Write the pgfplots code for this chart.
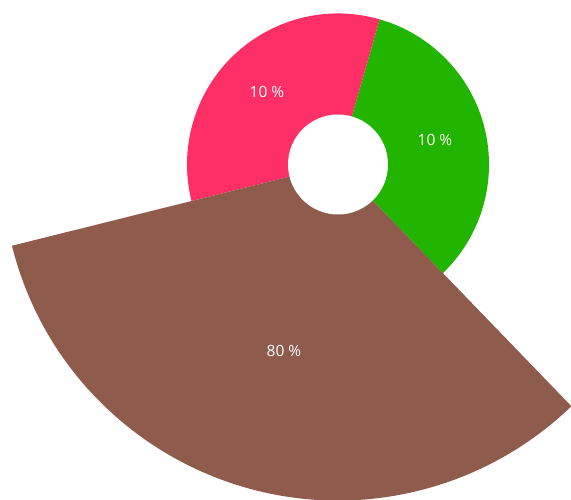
\documentclass[border=0pt]{standalone}
\usepackage{pgfplots}
\pgfplotsset{compat=1.18}
\usepackage{fontspec}
\setmainfont{Open Sans}
\definecolor{slicered}{RGB}{254,46,102}
\definecolor{slicegreen}{RGB}{34,181,0}
\definecolor{slicebrown}{RGB}{142,91,77}

\begin{document}
\begin{tikzpicture}
\begin{axis}[
    name=ax,
    x=1pt, y=1pt,
    xmin=0, xmax=571, ymin=0, ymax=500,
    axis lines=none,
    clip=true,
]
    % three 120 degree slices, radius = hole + 101*sqrt(value/10)
    % green 10 %, red 10 %, brown 80 %
    \fill[slicegreen] (axis cs:338,335.5) -- +(-46:151pt)
        arc[start angle=-46, end angle=74, radius=151pt] -- cycle;
    \fill[slicered] (axis cs:338,335.5) -- +(74:151pt)
        arc[start angle=74, end angle=194, radius=151pt] -- cycle;
    \fill[slicebrown] (axis cs:338,335.5) -- +(194:336pt)
        arc[start angle=194, end angle=314, radius=336pt] -- cycle;
    \fill[white] (axis cs:338,335.5) circle[radius=50pt];

    \node[text=white, font=\fontsize{15.5}{17}\selectfont] at (axis cs:267,408) {10 \%};
    \node[text=white, font=\fontsize{15.5}{17}\selectfont] at (axis cs:435,360) {10 \%};
    \node[text=white, font=\fontsize{15.5}{17}\selectfont] at (axis cs:284,149) {80 \%};
\end{axis}
\pgfresetboundingbox
\path[use as bounding box] (ax.south west) rectangle (ax.north east);
\end{tikzpicture}
\end{document}
